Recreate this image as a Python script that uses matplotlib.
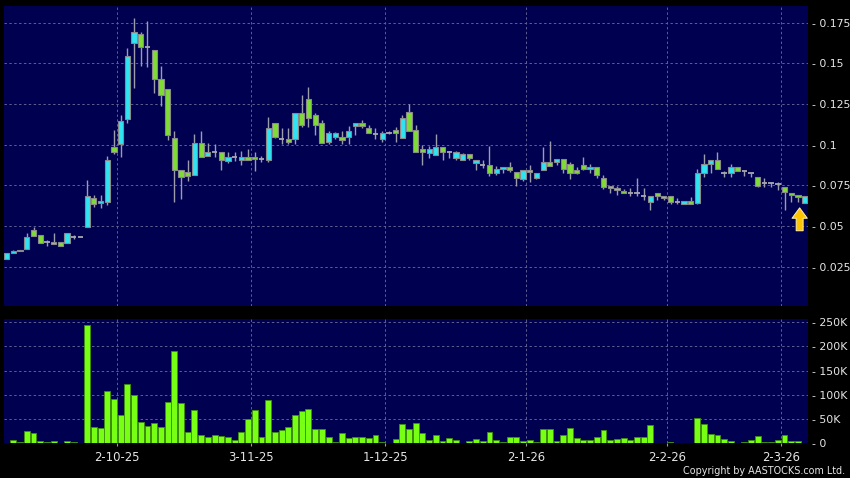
import matplotlib
matplotlib.use('Agg')
import matplotlib.pyplot as plt
import matplotlib.transforms as mtransforms
from matplotlib.ticker import FuncFormatter
import numpy as np

# ---------------- data ----------------
opens = [0.0299, 0.0332, 0.0345, 0.0360, 0.0473, 0.0442, 0.0399, 0.0391, 0.0399, 0.0397,
         0.0430, 0.0430, 0.0491, 0.0670, 0.0639, 0.0647, 0.0985, 0.1004, 0.1160, 0.1627,
         0.1678, 0.1598, 0.1580, 0.1401, 0.1340, 0.1040, 0.0842, 0.0830, 0.0811, 0.1008,
         0.0928, 0.0955, 0.0957, 0.0902, 0.0926, 0.0904, 0.0926, 0.0920, 0.0910, 0.0906,
         0.1131, 0.1035, 0.1032, 0.1032, 0.1193, 0.1279, 0.1180, 0.1131, 0.1018, 0.1049,
         0.1049, 0.1049, 0.1117, 0.1131, 0.1100, 0.1066, 0.1032, 0.1074, 0.1090, 0.1039,
         0.1198, 0.1090, 0.0971, 0.0951, 0.0937, 0.0983, 0.0953, 0.0920, 0.0906, 0.0941,
         0.0890, 0.0875, 0.0875, 0.0827, 0.0848, 0.0860, 0.0829, 0.0791, 0.0842, 0.0797,
         0.0842, 0.0891, 0.0891, 0.0909, 0.0879, 0.0844, 0.0875, 0.0848, 0.0860, 0.0793,
         0.0746, 0.0719, 0.0715, 0.0703, 0.0703, 0.0682, 0.0650, 0.0700, 0.0682, 0.0684,
         0.0650, 0.0635, 0.0651, 0.0639, 0.0824, 0.0879, 0.0903, 0.0824, 0.0824, 0.0861,
         0.0840, 0.0828, 0.0799, 0.0764, 0.0766, 0.0756, 0.0742, 0.0700, 0.0688, 0.0639]
highs = [0.0334, 0.0350, 0.0354, 0.0455, 0.0492, 0.0442, 0.0414, 0.0459, 0.0399, 0.0455,
         0.0444, 0.0430, 0.0783, 0.0690, 0.0688, 0.0930, 0.1090, 0.1182, 0.1592, 0.1776,
         0.1694, 0.1760, 0.1580, 0.1483, 0.1340, 0.1084, 0.0842, 0.0907, 0.1066, 0.1084,
         0.1008, 0.1004, 0.0957, 0.0953, 0.0953, 0.0963, 0.0971, 0.0953, 0.0930, 0.1170,
         0.1131, 0.1100, 0.1100, 0.1193, 0.1305, 0.1356, 0.1197, 0.1152, 0.1084, 0.1079,
         0.1084, 0.1115, 0.1131, 0.1152, 0.1119, 0.1100, 0.1084, 0.1084, 0.1111, 0.1182,
         0.1248, 0.1121, 0.0998, 0.0994, 0.1065, 0.0983, 0.0961, 0.0960, 0.0947, 0.0941,
         0.0906, 0.0906, 0.0994, 0.0868, 0.0860, 0.0895, 0.0829, 0.0842, 0.0875, 0.0827,
         0.0987, 0.1022, 0.0909, 0.0909, 0.0895, 0.0860, 0.0926, 0.0879, 0.0860, 0.0813,
         0.0746, 0.0746, 0.0725, 0.0736, 0.0797, 0.0736, 0.0682, 0.0700, 0.0682, 0.0684,
         0.0670, 0.0651, 0.0676, 0.0848, 0.0942, 0.0903, 0.0955, 0.0840, 0.0879, 0.0861,
         0.0840, 0.0828, 0.0799, 0.0793, 0.0772, 0.0772, 0.0742, 0.0700, 0.0688, 0.0684]
lows = [0.0297, 0.0332, 0.0344, 0.0360, 0.0440, 0.0397, 0.0379, 0.0391, 0.0379, 0.0397,
        0.0420, 0.0430, 0.0491, 0.0614, 0.0610, 0.0629, 0.0940, 0.0926, 0.1131, 0.1350,
        0.1485, 0.1479, 0.1320, 0.1237, 0.1030, 0.0648, 0.0667, 0.0777, 0.0811, 0.0926,
        0.0928, 0.0926, 0.0844, 0.0885, 0.0902, 0.0877, 0.0906, 0.0840, 0.0893, 0.0895,
        0.1039, 0.1002, 0.1002, 0.1002, 0.1110, 0.1110, 0.1059, 0.1008, 0.1002, 0.1032,
        0.1002, 0.1002, 0.1059, 0.1100, 0.1070, 0.1035, 0.1018, 0.1064, 0.1018, 0.1039,
        0.1086, 0.0957, 0.0875, 0.0920, 0.0937, 0.0906, 0.0916, 0.0906, 0.0906, 0.0906,
        0.0845, 0.0854, 0.0807, 0.0813, 0.0824, 0.0829, 0.0748, 0.0777, 0.0768, 0.0787,
        0.0842, 0.0870, 0.0875, 0.0828, 0.0791, 0.0820, 0.0845, 0.0824, 0.0793, 0.0725,
        0.0701, 0.0690, 0.0701, 0.0686, 0.0686, 0.0660, 0.0598, 0.0660, 0.0660, 0.0633,
        0.0633, 0.0635, 0.0635, 0.0635, 0.0803, 0.0828, 0.0848, 0.0799, 0.0799, 0.0835,
        0.0807, 0.0800, 0.0742, 0.0742, 0.0742, 0.0721, 0.0598, 0.0650, 0.0645, 0.0639]
closes = [0.0332, 0.0346, 0.0353, 0.0430, 0.0440, 0.0397, 0.0399, 0.0401, 0.0379, 0.0455,
          0.0430, 0.0430, 0.0684, 0.0635, 0.0653, 0.0905, 0.0957, 0.1145, 0.1545, 0.1690,
          0.1598, 0.1598, 0.1401, 0.1303, 0.1062, 0.0843, 0.0799, 0.0809, 0.1008, 0.0926,
          0.0954, 0.0955, 0.0906, 0.0926, 0.0926, 0.0926, 0.0906, 0.0910, 0.0910, 0.1100,
          0.1049, 0.1035, 0.1018, 0.1193, 0.1118, 0.1162, 0.1118, 0.1008, 0.1069, 0.1069,
          0.1029, 0.1084, 0.1131, 0.1117, 0.1070, 0.1066, 0.1070, 0.1074, 0.1070, 0.1161,
          0.1086, 0.0957, 0.0957, 0.0971, 0.0983, 0.0953, 0.0953, 0.0953, 0.0941, 0.0920,
          0.0906, 0.0875, 0.0827, 0.0850, 0.0860, 0.0842, 0.0793, 0.0842, 0.0830, 0.0827,
          0.0891, 0.0870, 0.0909, 0.0848, 0.0824, 0.0828, 0.0848, 0.0860, 0.0811, 0.0742,
          0.0732, 0.0734, 0.0701, 0.0703, 0.0703, 0.0682, 0.0682, 0.0686, 0.0670, 0.0649,
          0.0650, 0.0651, 0.0635, 0.0824, 0.0879, 0.0903, 0.0848, 0.0824, 0.0861, 0.0840,
          0.0840, 0.0828, 0.0748, 0.0764, 0.0766, 0.0756, 0.0707, 0.0688, 0.0680, 0.0684]
volumes_k = [1.4, 6.2, 2, 26, 22, 4.8, 2, 4, 0.7, 4,
             2, 0, 244, 33, 31, 109, 91, 59, 123, 99,
             43, 35, 41, 34, 85, 191, 83, 23, 69, 17,
             12, 18, 15, 12, 6, 23, 50, 68, 13, 89,
             24, 27, 34, 58, 67, 70, 30, 30, 12, 3,
             21, 10, 13, 14, 10, 17, 2, 0.5, 9, 39,
             30, 41, 21, 6, 17, 5, 10, 7, 1.5, 5,
             8, 5.5, 23, 7, 3, 12, 14, 5.5, 7, 3,
             30, 30, 5, 17, 31, 10, 6, 7, 14, 27,
             6, 8, 11, 6, 13, 14, 37, 1.4, 0.7, 2,
             1.4, 0.7, 1.4, 52, 40, 19, 17, 9, 4, 1.4,
             3.4, 7.6, 16, 3.4, 3.4, 6, 17, 4, 4, 1.4]
date_labels = ['2-10-25', '3-11-25', '1-12-25', '2-1-26', '2-2-26', '2-3-26']
date_index = [16, 36, 56, 77, 98, 115]
price_ticks = [0.025, 0.05, 0.075, 0.1, 0.125, 0.15, 0.175]
volume_ticks = [0, 50000, 100000, 150000, 200000, 250000]

# ---------------- style ----------------
W, H = 850, 478
BG = '#000050'
GRID = '#5e5e92'
TXT = '#e6e6e6'
UP = '#2fe3f2'
DOWN = '#7fdc35'
EDGE = '#8a8a8a'
WICK = '#9c9cac'

o = np.array(opens); h = np.array(highs); l = np.array(lows); c = np.array(closes)
vol = np.array(volumes_k) * 1000
n = len(o)
x = np.arange(n)

fig = plt.figure(figsize=(W / 100, H / 100), dpi=100, facecolor='black')
ax = fig.add_axes([4 / W, 1 - 306 / H, 804 / W, 300 / H])
axv = fig.add_axes([4 / W, 1 - 443.3 / H, 804 / W, 124 / H], sharex=ax)

for a in (ax, axv):
    a.set_facecolor(BG)
    for s in a.spines.values():
        s.set_visible(False)

grid_x = [i + 0.45 for i in date_index]
dash = (0, (2.5, 2.5))

# main panel grid
for t in price_ticks:
    ax.axhline(t, color=GRID, lw=0.7, ls=dash, zorder=1)
for gx in grid_x:
    ax.axvline(gx, color=GRID, lw=0.7, ls=dash, zorder=1)

# candles
ax.vlines(x, l, h, color=WICK, lw=1.0, zorder=2)
doji = c == o
up = c > o
minh = 0.0012
mid = (o + c) / 2
bh = np.abs(c - o)
bottom = np.where(bh < minh, mid - minh / 2, np.minimum(o, c))
height = np.maximum(bh, minh)
cols = np.where(up, UP, DOWN)
nd = ~doji
ax.bar(x[nd], height[nd], bottom=bottom[nd], width=0.78, color=cols[nd],
       edgecolor=EDGE, linewidth=0.8, zorder=3)
ax.hlines(c[doji], x[doji] - 0.4, x[doji] + 0.4, color='#a8a8b0', lw=1.3, zorder=3)

ax.set_xlim(-0.4, 119.5)
ax.set_ylim(0.0008, 0.1852)
ax.yaxis.tick_right()
ax.set_yticks(price_ticks)
ax.yaxis.set_major_formatter(FuncFormatter(lambda v, p: '- ' + ('%g' % v)))
ax.tick_params(axis='y', length=0, pad=3, labelcolor=TXT, labelsize=7.8)
ax.tick_params(axis='x', length=0, labelbottom=False)

# arrow below last candle
tip_tr = mtransforms.offset_copy(ax.transData, fig=fig, x=-5, y=-4.5, units='dots')
ax.annotate('', xy=(x[-1], l[-1]), xycoords=tip_tr, xytext=(0, -16.5),
            textcoords='offset points',
            arrowprops=dict(arrowstyle='simple,head_length=0.75,head_width=1.1,tail_width=0.5',
                            fc='#ffc400', ec='#fff0b0', lw=0.7, shrinkA=0, shrinkB=0,
                            mutation_scale=10), zorder=5)

# volume panel
for t in volume_ticks[1:]:
    axv.axhline(t, color=GRID, lw=0.7, ls=dash, zorder=1)
for gx in grid_x:
    axv.axvline(gx, color=GRID, lw=0.7, ls=dash, zorder=1)
axv.bar(x, vol, width=0.88, color='#77ff14', edgecolor='#3f8f10', linewidth=0.6, zorder=3)
axv.set_ylim(0, 256000)
axv.yaxis.tick_right()
axv.set_yticks(volume_ticks)
axv.yaxis.set_major_formatter(FuncFormatter(
    lambda v, p: '- ' + ('0' if v == 0 else '%dK' % (v / 1000))))
axv.tick_params(axis='y', length=0, pad=3, labelcolor=TXT, labelsize=7.8)
axv.set_xticks(grid_x)
axv.set_xticklabels(date_labels)
axv.tick_params(axis='x', length=2.5, width=0.8, color='#9a9a9a', direction='out',
                pad=3, labelcolor=TXT, labelsize=8.4)
plt.setp(ax.get_xticklabels(), visible=False)

fig.text(845 / W, 1 - 471.5 / H, 'Copyright by AASTOCKS.com Ltd.', ha='right', va='center',
         color=TXT, fontsize=6.9)

fig.savefig('out.png', dpi=100, facecolor='black')
